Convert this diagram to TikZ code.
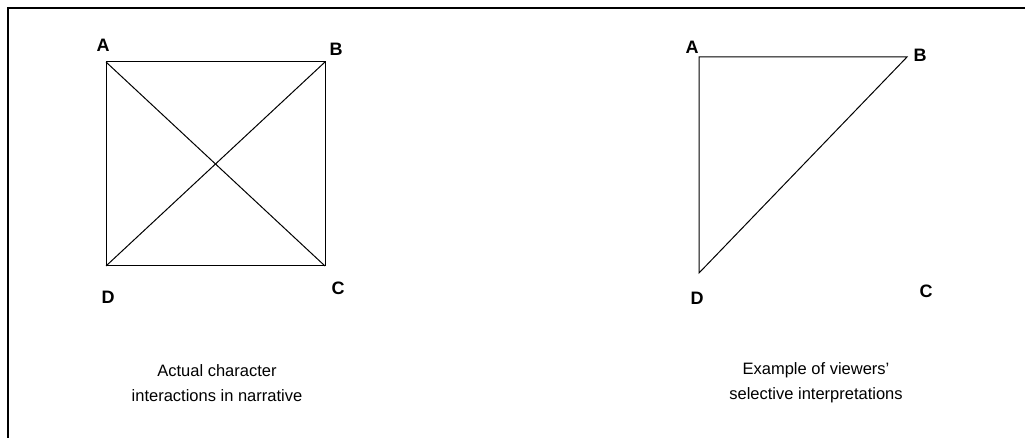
\documentclass[tikz,border=0pt]{standalone}
\usepackage{fontspec}
\setmainfont{Liberation Sans}
\usepackage{tikz}

\begin{document}
\begin{tikzpicture}[x=1pt,y=-1pt,
		corner/.style={font=\fontsize{18}{18}\selectfont\bfseries, inner sep=0pt},
		caption/.style={font=\fontsize{16.5}{25}\selectfont, align=center, inner sep=0pt},
		edge/.style={line width=1pt}]
		% Fix the page size
		\useasboundingbox (0,0) rectangle (1025,438);
		
		% Open frame: top and left side only
		\draw[line width=1.5pt] (1025,8) -- (8,8) -- (8,438);
		
		% --- LEFT: all interactions ---
		\coordinate (la) at (106,62);
		\coordinate (lb) at (325,62);
		\coordinate (lc) at (325,266);
		\coordinate (ld) at (106,266);
		\draw[edge] (la) -- (lb) -- (lc) -- (ld) -- cycle;
		\draw[edge] (la) -- (lc);
		\draw[edge] (lb) -- (ld);
		\node[corner] (lA) at (103,45) {A};
		\node[corner] (lB) at (336,49) {B};
		\node[corner] (lC) at (338,288) {C};
		\node[corner] (lD) at (108,297) {D};
		\node[caption] (lcap) at (217,383) {Actual character\\interactions in narrative};
		
		% --- RIGHT: selective view ---
		\coordinate (ra) at (699,57);
		\coordinate (rb) at (907,57);
		\coordinate (rd) at (699,273);
		\draw[edge] (ra) -- (rb) -- (rd) -- cycle;
		\node[corner] (rA) at (692,47) {A};
		\node[corner] (rB) at (920,55) {B};
		\node[corner] (rC) at (926,291) {C};
		\node[corner] (rD) at (697,298) {D};
		\node[caption] (rcap) at (816,383) {Example of viewers’\\selective interpretations};
	\end{tikzpicture}
\end{document}
